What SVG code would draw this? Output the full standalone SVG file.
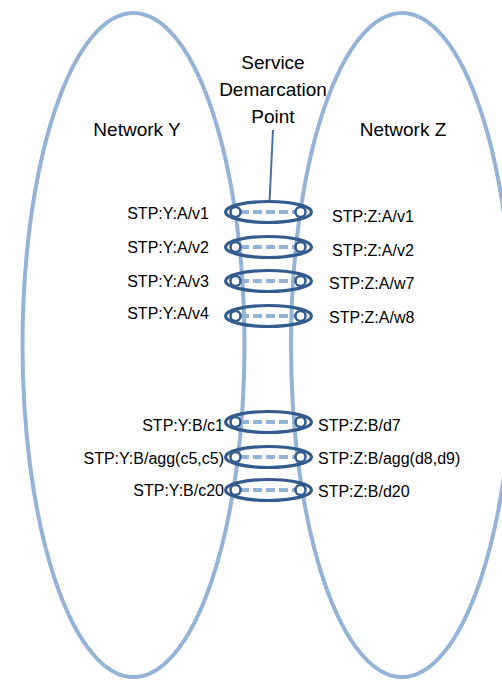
<svg xmlns="http://www.w3.org/2000/svg" width="502" height="680" viewBox="0 0 502 680">
  <style>
    .net { fill: none; stroke: #95b3d7; stroke-width: 4; }
    .lbl { font-family: "Liberation Sans", Arial, sans-serif; font-size: 16px; fill: #000; }
    .title { font-family: "Liberation Sans", Arial, sans-serif; font-size: 19px; fill: #000; }
    .ring { fill: none; stroke: #335b8e; stroke-width: 3.2; }
    .port { fill: #fff; stroke: #335b8e; stroke-width: 2.5; }
    .link { stroke: #95b3d7; stroke-width: 4; stroke-dasharray: 9 4; }
    .pointer { stroke: #4a70a6; stroke-width: 2; }
  </style>
  <defs>
    <!-- one demarcation crossing: outer ring, dashed link and two end ports -->
    <g id="sdp">
      <line class="link" x1="240" y1="0" x2="295" y2="0"/>
      <ellipse class="ring" cx="268.5" cy="0" rx="43" ry="10.5"/>
      <circle class="port" cx="235.5" cy="0" r="5"/>
      <circle class="port" cx="300.5" cy="0" r="5"/>
    </g>
  </defs>
  <rect width="502" height="680" fill="#fff"/>

  <g id="network-y">
    <ellipse class="net" cx="133.5" cy="345" rx="111" ry="332"/>
    <text class="title" x="137" y="136" text-anchor="middle">Network Y</text>
  </g>
  <g id="network-z">
    <ellipse class="net" cx="402" cy="345" rx="111" ry="332"/>
    <text class="title" x="403" y="136" text-anchor="middle">Network Z</text>
  </g>

  <g id="connectors">
    <line class="pointer" x1="273" y1="130" x2="269.5" y2="202"/>
  </g>

  <g id="sdp-label">
    <text class="title" x="273" y="69" text-anchor="middle">Service</text>
    <text class="title" x="273" y="96" text-anchor="middle">Demarcation</text>
    <text class="title" x="273" y="123" text-anchor="middle">Point</text>
  </g>

  <g id="sdp-a-v1">
    <use href="#sdp" y="212"/>
    <text class="lbl" x="209" y="219" text-anchor="end">STP:Y:A/v1</text>
    <text class="lbl" x="332" y="222">STP:Z:A/v1</text>
  </g>
  <g id="sdp-a-v2">
    <use href="#sdp" y="247"/>
    <text class="lbl" x="209" y="253" text-anchor="end">STP:Y:A/v2</text>
    <text class="lbl" x="332" y="256">STP:Z:A/v2</text>
  </g>
  <g id="sdp-a-w7">
    <use href="#sdp" y="281"/>
    <text class="lbl" x="209" y="287" text-anchor="end">STP:Y:A/v3</text>
    <text class="lbl" x="329" y="289">STP:Z:A/w7</text>
  </g>
  <g id="sdp-a-w8">
    <use href="#sdp" y="316"/>
    <text class="lbl" x="209" y="319" text-anchor="end">STP:Y:A/v4</text>
    <text class="lbl" x="329" y="323">STP:Z:A/w8</text>
  </g>

  <g id="sdp-b-d7">
    <use href="#sdp" y="422"/>
    <text class="lbl" x="224" y="431" text-anchor="end">STP:Y:B/c1</text>
    <text class="lbl" x="318" y="431">STP:Z:B/d7</text>
  </g>
  <g id="sdp-b-agg">
    <use href="#sdp" y="457"/>
    <text class="lbl" x="224" y="464" text-anchor="end">STP:Y:B/agg(c5,c5)</text>
    <text class="lbl" x="318" y="464">STP:Z:B/agg(d8,d9)</text>
  </g>
  <g id="sdp-b-d20">
    <use href="#sdp" y="490"/>
    <text class="lbl" x="224" y="496" text-anchor="end">STP:Y:B/c20</text>
    <text class="lbl" x="318" y="497">STP:Z:B/d20</text>
  </g>
</svg>
